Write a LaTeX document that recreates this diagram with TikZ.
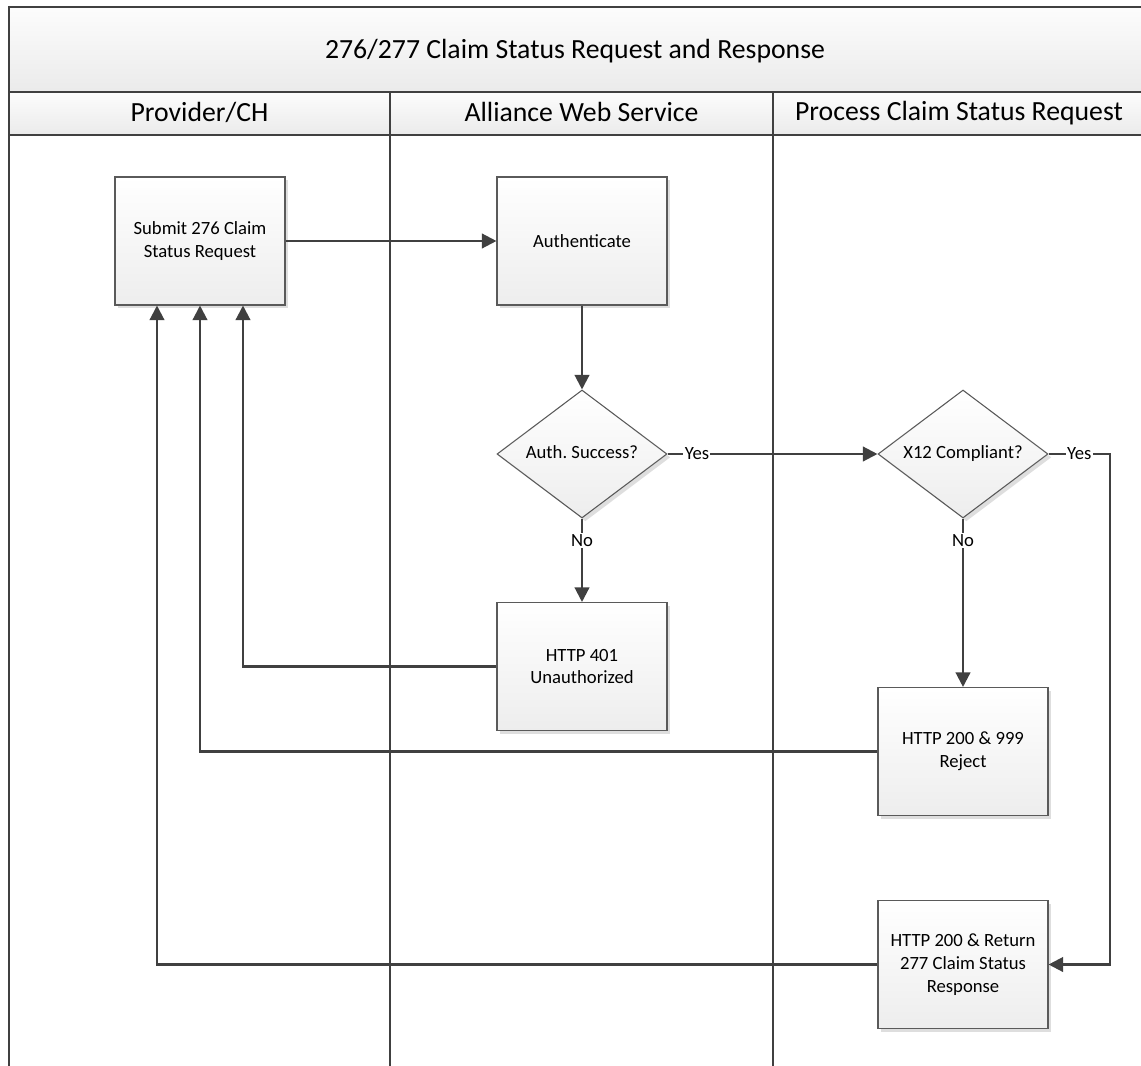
\documentclass[tikz,border=0pt]{standalone}
\usepackage{fontspec}
\setmainfont{Carlito}
\usetikzlibrary{arrows.meta,shapes.geometric,shadows}
\definecolor{ln}{HTML}{404040}
\definecolor{bx}{HTML}{5A5A5A}
\begin{document}
\begin{tikzpicture}[x=0.75pt,y=-0.75pt,
  proc/.style={rectangle, draw=bx, line width=0.8pt, top color=white, bottom color=black!7,
    minimum width=127.5pt, minimum height=96pt, inner sep=0pt, align=center,
    font=\fontsize{14}{17}\selectfont,
    drop shadow={shadow xshift=2.5pt, shadow yshift=-2.5pt, fill=black!13, opacity=1}},
  dec/.style={diamond, aspect=1.33, draw=bx, line width=0.8pt, top color=white, bottom color=black!7,
    minimum width=127.5pt, minimum height=96pt, inner sep=0pt, align=center,
    text height=7pt, text depth=-2pt,
    font=\fontsize{14}{17}\selectfont,
    drop shadow={shadow xshift=2.5pt, shadow yshift=-2.5pt, fill=black!13, opacity=1}},
  band/.style={rectangle, draw=none, top color=black!1, bottom color=black!8, inner sep=0pt},
  htext/.style={anchor=base, inner sep=0pt, font=\fontsize{20.8}{25}\selectfont},
  conn/.style={draw=ln, line width=1.7pt, -{Triangle[length=11pt,width=11pt]}},
  lbl/.style={fill=white, inner sep=1pt, font=\fontsize{14}{17}\selectfont},
  lane/.style={draw=ln, line width=1.6pt}
]
\useasboundingbox (0,0) rectangle (1141,1066);
% header bands
\node[band, minimum width=849pt, minimum height=63.75pt] (title) at (575,49.5) {};
\node[band, minimum width=285.75pt, minimum height=32.25pt] (h1) at (199.5,113.5) {};
\node[band, minimum width=287.25pt, minimum height=32.25pt] (h2) at (581.5,113.5) {};
\node[band, minimum width=276pt, minimum height=32.25pt] (h3) at (957,113.5) {};
\node[htext] (titlet) at (575,59) {276/277 Claim Status Request and Response};
\node[htext] (h1t) at (199.5,122) {Provider/CH};
\node[htext] (h2t) at (581.5,122) {Alliance Web Service};
\node[htext] (h3t) at (959,121) {Process Claim Status Request};
% lane lines
\draw[lane] (9,7) -- (1141,7);
\draw[lane] (9,92) -- (1141,92);
\draw[lane] (9,135) -- (1141,135);
\draw[lane] (9,6) -- (9,1066);
\draw[lane] (390,92) -- (390,1066);
\draw[lane] (773,92) -- (773,1066);
% nodes
\node[proc] (sub) at (200,241) {Submit 276 Claim\\Status Request};
\node[proc] (auth) at (582,241) {Authenticate};
\node[dec] (d1) at (582,454) {Auth.\ Success?};
\node[proc] (u401) at (582,666.5) {HTTP 401\\Unauthorized};
\node[dec] (d2) at (963,454) {X12 Compliant?};
\node[proc] (rej) at (963,751.5) {HTTP 200 \& 999\\Reject};
\node[proc] (ret) at (963,964.5) {HTTP 200 \& Return\\277 Claim Status\\Response};
\coordinate (c2) at (1110,454);
% connectors
\draw[conn] (sub.east) -- (auth.west);
\draw[conn] (auth.south) -- (d1.north);
\draw[conn] (d1.east) -- node[lbl, pos=0.14]{Yes} (d2.west);
\draw[conn] (d1.south) -- node[lbl, pos=0.26]{No} (u401.north);
\draw[conn] (d2.south) -- node[lbl, pos=0.13]{No} (rej.north);
\draw[conn] (d2.east) -- node[lbl]{Yes} (c2) |- (ret.east);
\draw[conn] (u401.west) -| ([xshift=32.25pt]sub.south);
\draw[conn] (rej.west) -| (sub.south);
\draw[conn] (ret.west) -| ([xshift=-32.25pt]sub.south);
\end{tikzpicture}
\end{document}
